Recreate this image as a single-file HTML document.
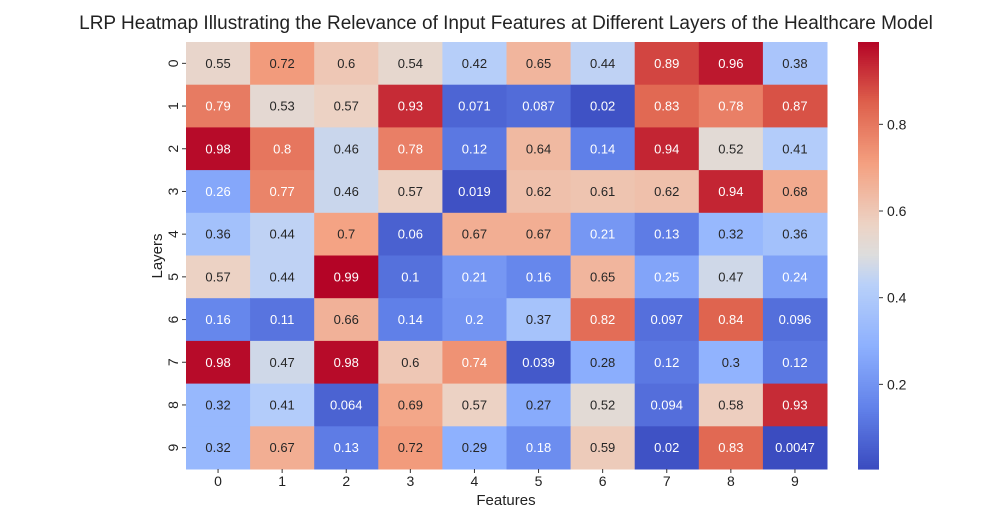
<!DOCTYPE html>
<html><head><meta charset="utf-8"><style>
body{margin:0;background:#fff;}
svg text{font-family:"Liberation Sans",sans-serif;}
</style></head><body>
<svg id="chart" width="1008" height="506" xmlns="http://www.w3.org/2000/svg">
<text x="506" y="29" text-anchor="middle" font-size="19" fill="#222">LRP Heatmap Illustrating the Relevance of Input Features at Different Layers of the Healthcare Model</text>
<text x="506" y="505" text-anchor="middle" font-size="15" fill="#222">Features</text>
<text transform="translate(162,256) rotate(-90)" text-anchor="middle" font-size="15" fill="#222">Layers</text>
<g id="cells"></g><g id="cbar"></g>
</svg>
<script>
const features=["0","1","2","3","4","5","6","7","8","9"];
const layers=["0","1","2","3","4","5","6","7","8","9"];
const r0=[0.55,0.72,0.6,0.54,0.42,0.65,0.44,0.89,0.96,0.38];
const r1=[0.79,0.53,0.57,0.93,0.071,0.087,0.02,0.83,0.78,0.87];
const r2=[0.98,0.8,0.46,0.78,0.12,0.64,0.14,0.94,0.52,0.41];
const r3=[0.26,0.77,0.46,0.57,0.019,0.62,0.61,0.62,0.94,0.68];
const r4=[0.36,0.44,0.7,0.06,0.67,0.67,0.21,0.13,0.32,0.36];
const r5=[0.57,0.44,0.99,0.1,0.21,0.16,0.65,0.25,0.47,0.24];
const r6=[0.16,0.11,0.66,0.14,0.2,0.37,0.82,0.097,0.84,0.096];
const r7=[0.98,0.47,0.98,0.6,0.74,0.039,0.28,0.12,0.3,0.12];
const r8=[0.32,0.41,0.064,0.69,0.57,0.27,0.52,0.094,0.58,0.93];
const r9=[0.32,0.67,0.13,0.72,0.29,0.18,0.59,0.02,0.83,0.0047];
const rows=[r0,r1,r2,r3,r4,r5,r6,r7,r8,r9];
const cbTicks=[0.2,0.4,0.6,0.8];
const vmin=0.0047,vmax=0.99;
const X0=186,X1=827,Y0=42,Y1=469;
const cw=(X1-X0)/features.length,ch=(Y1-Y0)/layers.length;
const stops=[[0,59,76,192],[0.143,98,130,234],[0.286,141,176,254],[0.429,184,208,249],[0.5,221,221,221],[0.571,236,211,197],[0.714,244,160,128],[0.857,222,96,76],[1,180,4,38]];
function cmap(v){let t=Math.max(0,Math.min(1,(v-vmin)/(vmax-vmin)));for(let i=1;i<stops.length;i++){if(t<=stops[i][0]){const a=stops[i-1],b=stops[i],f=(t-a[0])/(b[0]-a[0]);return [0,1,2].map(k=>Math.round(a[k+1]+f*(b[k+1]-a[k+1])));}}return [180,4,38];}
function lum(c){const l=c.map(x=>{x/=255;return x<=0.03928?x/12.92:Math.pow((x+0.055)/1.055,2.4);});return 0.2126*l[0]+0.7152*l[1]+0.0722*l[2];}
const NS="http://www.w3.org/2000/svg";
function mk(tag,attrs,parent){const e=document.createElementNS(NS,tag);for(const k in attrs)e.setAttribute(k,attrs[k]);parent.appendChild(e);return e;}
const g=document.getElementById('cells');
rows.forEach((row,i)=>{row.forEach((v,j)=>{
 const c=cmap(v);
 const r=mk('rect',{x:X0+j*cw,y:Y0+i*ch,width:cw+0.5,height:ch+0.5,fill:`rgb(${c})`},g);
 
 
 const t=mk('text',{x:X0+(j+0.5)*cw,y:Y0+(i+0.5)*ch+4.5,'text-anchor':'middle','font-size':13,fill:lum(c)<0.408?'#fff':'#262626'},g);
 
 
 t.textContent=String(v);
});});
features.forEach((f,j)=>{
 const t=mk('text',{x:X0+(j+0.5)*cw,y:486,'text-anchor':'middle','font-size':14,fill:'#222'},g);
 
 
 t.textContent=f;
 mk('line',{x1:X0+(j+0.5)*cw,x2:X0+(j+0.5)*cw,y1:Y1,y2:Y1+4,stroke:'#333'},g);
});
layers.forEach((l,i)=>{
 const y=Y0+(i+0.5)*ch;
 const t=mk('text',{transform:`translate(178,${y}) rotate(-90)`,'text-anchor':'middle','font-size':14,fill:'#222'},g);
 
 
 t.textContent=l;
 mk('line',{x1:X0-4,x2:X0,y1:y,y2:y,stroke:'#333'},g);
});
const cb=document.getElementById('cbar');
const CX=858,CW=21;
function cy(v){return Y1-(v-vmin)/(vmax-vmin)*(Y1-Y0);}
for(let k=0;k<200;k++){const v=vmin+(vmax-vmin)*k/200;const c=cmap(v);
 const r=mk('rect',{x:CX,y:cy(v+(vmax-vmin)/200),width:CW,height:(Y1-Y0)/200+0.6,fill:`rgb(${c})`},cb);
 
 
}
cbTicks.forEach(v=>{
 mk('line',{x1:CX+CW,x2:CX+CW+4,y1:cy(v),y2:cy(v),stroke:'#333'},cb);
 const t=mk('text',{x:CX+CW+8,y:cy(v)+5,'font-size':14,fill:'#222'},cb);
 
 
 t.textContent=v.toFixed(1);
});
</script>
</body></html>
